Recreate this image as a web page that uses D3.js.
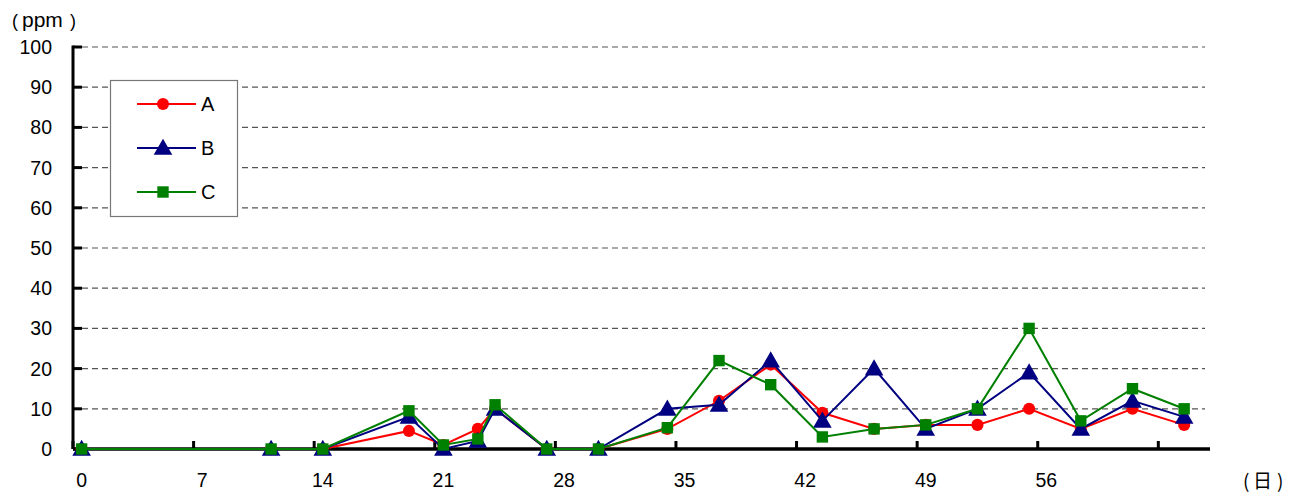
<!DOCTYPE html>
<html>
<head>
<meta charset="utf-8">
<script src="https://cdn.jsdelivr.net/npm/d3@7"></script>
<style>
  html, body { margin: 0; padding: 0; background: #fff; }
  svg { display: block; }
  text { font-family: "Liberation Sans", Arial, sans-serif; fill: #000; }
</style>
</head>
<body>
<svg id="chart" width="1289" height="493"></svg>
<script>
// Sampling days and measured concentrations (ppm)
const days = [0, 11, 14, 19, 21, 23, 24, 27, 30, 34, 37, 40, 43, 46, 49, 52, 55, 58, 61, 64];
const seriesA = [0, 0, 0, 4.5, 1, 5, 10, 0, 0, 5, 12, 21, 9, 5, 6, 6, 10, 5, 10, 6];
const seriesB = [0, 0, 0, 8, 0, 2, 10, 0, 0, 10, 11, 22, 7, 20, 5, 10, 19, 5, 12, 8];
const seriesC = [0, 0, 0, 9.5, 1, 2.5, 11, 0, 0, 5.3, 22, 16, 3, 5, 6, 10, 30, 7, 15, 10];
const seriesNames = ["A", "B", "C"];
const yTicks = [0, 10, 20, 30, 40, 50, 60, 70, 80, 90, 100];
const xTickDays = [0, 7, 14, 21, 28, 35, 42, 49, 56, 63];
const xLabelDays = [0, 7, 14, 21, 28, 35, 42, 49, 56];
const dayCount = 66;

const colors = ["#ff0000", "#000080", "#008000"];
const shapes = [d3.symbolCircle, d3.symbolTriangle, d3.symbolSquare];
const symSizes = [115, 150, 130];

const svg = d3.select("#chart");
const plotLeft = 73, plotRight = 1210, plotTop = 47, plotBottom = 449;

const x = d3.scaleBand().domain(d3.range(dayCount)).range([plotLeft, plotRight]).paddingInner(0).paddingOuter(0);
const xc = d => x(d) + x.bandwidth() / 2;
const y = d3.scaleLinear().domain([0, 100]).range([plotBottom, plotTop]);

// Dashed horizontal gridlines
svg.append("g").selectAll("line").data(yTicks.filter(v => v > 0)).join("line")
  .attr("x1", plotLeft + 9).attr("x2", plotRight - 5)
  .attr("y1", d => y(d)).attr("y2", d => y(d))
  .attr("stroke", "#555").attr("stroke-width", 1.2).attr("stroke-dasharray", "6,4");

// Y axis with inward ticks
svg.append("line").attr("x1", plotLeft).attr("x2", plotLeft).attr("y1", plotTop - 1.5).attr("y2", plotBottom)
  .attr("stroke", "#000").attr("stroke-width", 3);
svg.append("g").selectAll("line").data(yTicks).join("line")
  .attr("x1", plotLeft).attr("x2", plotLeft + 9)
  .attr("y1", d => y(d)).attr("y2", d => y(d))
  .attr("stroke", "#000").attr("stroke-width", 3);
svg.append("g").selectAll("text").data(yTicks).join("text")
  .attr("x", 52).attr("y", d => y(d)).attr("dy", "0.36em")
  .attr("text-anchor", "end").attr("font-size", 19.5).text(d => d);

// X axis with inward ticks every 7 days
svg.append("line").attr("x1", plotLeft).attr("x2", plotRight).attr("y1", plotBottom).attr("y2", plotBottom)
  .attr("stroke", "#000").attr("stroke-width", 3.5);
svg.append("g").selectAll("line").data(xTickDays).join("line")
  .attr("x1", d => x(d)).attr("x2", d => x(d))
  .attr("y1", plotBottom).attr("y2", plotBottom - 8)
  .attr("stroke", "#000").attr("stroke-width", 3);
svg.append("g").selectAll("text").data(xLabelDays).join("text")
  .attr("x", d => xc(d)).attr("y", 487)
  .attr("text-anchor", "middle").attr("font-size", 19.5).text(d => d);

// Unit labels
const ppm = svg.append("text").attr("y", 27).attr("font-size", 18);
ppm.append("tspan").attr("x", 12).text("(");
ppm.append("tspan").attr("x", 22).attr("font-size", 21).text("ppm");
ppm.append("tspan").attr("x", 70).text(")");

const dayUnit = svg.append("text").attr("y", 488).attr("font-size", 19)
  .style("font-family", "'Noto Sans CJK JP', 'Liberation Sans', sans-serif");
dayUnit.append("tspan").attr("x", 1243).text("(");
dayUnit.append("tspan").attr("x", 1253).text("日");
dayUnit.append("tspan").attr("x", 1277).text(")");

// Series lines and markers (C drawn last, on top)
const allSeries = [seriesA, seriesB, seriesC];
const line = d3.line().x((v, i) => xc(days[i])).y(v => y(v));
allSeries.forEach((vals, k) => {
  const g = svg.append("g");
  g.append("path").datum(vals).attr("d", line)
    .attr("fill", "none").attr("stroke", colors[k]).attr("stroke-width", 2);
  g.selectAll("path.m").data(vals).join("path").attr("class", "m")
    .attr("transform", (v, i) => `translate(${xc(days[i])},${y(v) + (k === 1 ? 1.5 : 0)})`)
    .attr("d", d3.symbol().type(shapes[k]).size(symSizes[k]))
    .attr("fill", colors[k]);
});

// Legend
const lg = svg.append("g");
lg.append("rect").attr("x", 110.5).attr("y", 80.5).attr("width", 127).attr("height", 136)
  .attr("fill", "#fff").attr("stroke", "#777").attr("stroke-width", 1.2);
seriesNames.forEach((name, k) => {
  const ly = 104 + k * 44;
  lg.append("line").attr("x1", 137).attr("x2", 196).attr("y1", ly).attr("y2", ly)
    .attr("stroke", colors[k]).attr("stroke-width", 2);
  lg.append("path").attr("transform", `translate(163,${ly + (k === 1 ? 1.5 : 0)})`)
    .attr("d", d3.symbol().type(shapes[k]).size(symSizes[k])).attr("fill", colors[k]);
  lg.append("text").attr("x", 201).attr("y", ly).attr("dy", "0.36em")
    .attr("font-size", 20).text(name);
});
</script>
</body>
</html>
